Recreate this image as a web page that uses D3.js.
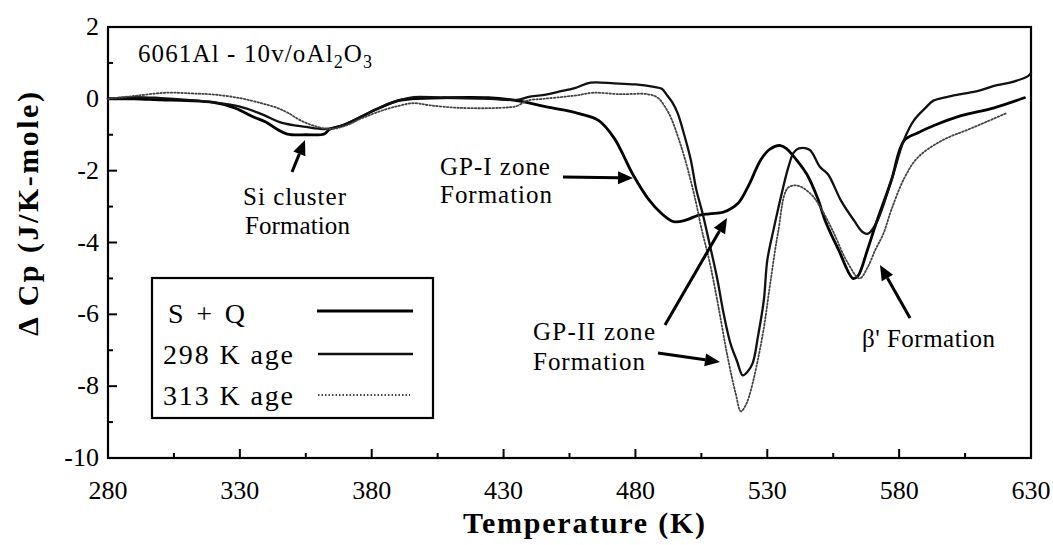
<!DOCTYPE html>
<html><head><meta charset="utf-8">
<script src="https://cdn.jsdelivr.net/npm/d3@7"></script>
<style>
html,body{margin:0;padding:0;background:#fff;}
text{font-family:"Liberation Serif","Times New Roman",serif;fill:#000;}
</style></head>
<body>
<svg id="chart" width="1053" height="545"></svg>
<script>
// ---------- data ----------
const xTicksMajor = [280,330,380,430,480,530,580,630];
const xTicksMinor = [305,355,405,455,505,555,605];
const yTicksMajor = [2,0,-2,-4,-6,-8,-10];
const yTicksMinor = [1,-1,-3,-5,-7,-9];

const seriesNames = ["S + Q","298 K age","313 K age"];

const sqT = [280,290,300,310,320,328,335,340,344,348,355,362,364,370,376,383,390,395,407,424,435,445,452,459,466,472,479,485,490,494.5,499,503.5,508,513.5,519,523,527.5,531,535,537.5,540,545,549,552,557,562.5,564.4,568,571.2,577,581.8,587,593,603.5,616,627.5];
const sqV = [0,0,-0.03,-0.05,-0.1,-0.25,-0.5,-0.65,-0.84,-0.98,-1.0,-0.98,-0.85,-0.72,-0.5,-0.25,-0.05,0,0.03,0.03,-0.05,-0.2,-0.3,-0.42,-0.6,-1.1,-2.1,-2.8,-3.2,-3.42,-3.38,-3.25,-3.2,-3.15,-2.9,-2.4,-1.7,-1.4,-1.3,-1.4,-1.6,-2.1,-2.75,-3.4,-4.2,-5.0,-4.93,-4.2,-3.48,-2.28,-1.17,-0.95,-0.75,-0.47,-0.25,0.03];

const age298T = [280,290,300,310,320,330,338,346,355,362,366,370,376,383,390,396,407,425,435,440,446,451,457,463,472,480,487,490,492,494,496,498.5,501,503,505.5,508,511,513.5,516,518.5,520.7,522.5,524.5,526.5,528.7,530,532.5,534,538,540,542,546,550,553,558,563,566,568,571.2,577,581.8,585.6,590,593,598,603.5,610,616,622,629,630];
const age298V = [0,0.05,0.02,-0.03,-0.1,-0.22,-0.42,-0.67,-0.78,-0.84,-0.8,-0.7,-0.5,-0.25,-0.05,0.05,0.03,0,-0.03,0.06,0.12,0.2,0.3,0.45,0.43,0.4,0.33,0.28,0.1,-0.1,-0.4,-1.0,-1.7,-2.5,-3.2,-4.0,-5.0,-6.0,-6.8,-7.3,-7.7,-7.6,-7.35,-6.6,-5.6,-4.5,-3.6,-3.1,-1.9,-1.5,-1.38,-1.42,-1.9,-2.1,-2.84,-3.4,-3.7,-3.76,-3.48,-2.28,-1.15,-0.6,-0.25,-0.05,0.05,0.13,0.22,0.36,0.45,0.64,0.72];

const age313T = [280,290,302,312,320,330,338,344,348,353,358,364,370,376,383,390,396,402,413,429,435,439,445,452,458,464,474,484.5,488.5,491,493.5,497,500,503,505,508,511,515,518,520,522,524,528.3,531,534,537.8,541.6,546.5,550.3,555,560,565,568,571,574,577,582,587,596,608,621];
const age313V = [0,0.08,0.17,0.15,0.12,0.02,-0.12,-0.25,-0.38,-0.6,-0.75,-0.84,-0.75,-0.55,-0.35,-0.2,-0.12,-0.18,-0.25,-0.25,-0.2,-0.05,0.0,0.05,0.1,0.17,0.13,0.13,0.03,-0.2,-0.53,-1.25,-2.0,-2.9,-3.6,-4.5,-5.6,-7.2,-8.2,-8.7,-8.5,-8.05,-6.55,-5.2,-3.76,-2.48,-2.42,-2.65,-3.04,-3.7,-4.5,-5.0,-4.7,-4.2,-3.76,-3.1,-2.2,-1.64,-1.17,-0.8,-0.39];

// ---------- layout ----------
const svg = d3.select("#chart");
const L = 108, R = 1031, T = 27, B = 458;
const x = d3.scaleLinear().domain([280,630]).range([L,R]);
const y = d3.scaleLinear().domain([-10,2]).range([B,T]);

function fitWidth(sel, target){
  const n = sel.text().length;
  const w = sel.node().getComputedTextLength();
  if(n>1) sel.attr("letter-spacing", ((target-w)/(n-1)).toFixed(2));
}

// frame
svg.append("rect").attr("x",L).attr("y",T).attr("width",R-L).attr("height",B-T)
  .attr("fill","none").attr("stroke","#000").attr("stroke-width",2.2);

// ticks (inward)
const tg = svg.append("g").attr("stroke","#000").attr("stroke-width",2);
xTicksMajor.forEach(t=>tg.append("line").attr("x1",x(t)).attr("x2",x(t)).attr("y1",B).attr("y2",B-9));
xTicksMinor.forEach(t=>tg.append("line").attr("x1",x(t)).attr("x2",x(t)).attr("y1",B).attr("y2",B-5));
yTicksMajor.forEach(t=>tg.append("line").attr("x1",L).attr("x2",L+9).attr("y1",y(t)).attr("y2",y(t)));
yTicksMinor.forEach(t=>tg.append("line").attr("x1",L).attr("x2",L+5).attr("y1",y(t)).attr("y2",y(t)));

// tick labels
svg.append("g").selectAll("text").data(xTicksMajor).join("text")
  .attr("x",d=>x(d)).attr("y",499).attr("text-anchor","middle")
  .attr("font-size",26).text(d=>d);
svg.append("g").selectAll("text").data(yTicksMajor).join("text")
  .attr("x",99).attr("y",d=>y(d)+8).attr("text-anchor","end")
  .attr("font-size",26).text(d=>d);

// axis titles
const xt = svg.append("text").attr("x",463).attr("y",533)
  .attr("font-size",30).attr("font-weight","bold").text("Temperature (K)");
fitWidth(xt, 242);
const yt = svg.append("text").attr("transform","translate(38,336) rotate(-90)")
  .attr("font-size",30).attr("font-weight","bold").text("\u0394 Cp (J/K-mole)");
fitWidth(yt, 244);

// curves
const line = d3.line().x(d=>x(d[0])).y(d=>y(d[1])).curve(d3.curveCatmullRom.alpha(0.5));
const zip = (a,b)=>a.map((t,i)=>[t,b[i]]);
const styles = [
  {data:zip(sqT,sqV), w:2.8, dash:null, color:"#000"},
  {data:zip(age298T,age298V), w:2.3, dash:null, color:"#111"},
  {data:zip(age313T,age313V), w:1.8, dash:"1.5,2", color:"#444"}
];
const cg = svg.append("g");
styles.forEach(s=>{
  cg.append("path").attr("d",line(s.data)).attr("fill","none")
    .attr("stroke",s.color).attr("stroke-width",s.w)
    .attr("stroke-linejoin","round").attr("stroke-linecap","round")
    .attr("stroke-dasharray",s.dash);
});

// sample title
const title = svg.append("text").attr("x",138).attr("y",62).attr("font-size",25);
title.append("tspan").text("6061Al - 10v/oAl");
title.append("tspan").attr("font-size",18).attr("dy",6).text("2");
title.append("tspan").attr("dy",-6).text("O");
title.append("tspan").attr("font-size",18).attr("dy",6).text("3");
{
  const w = title.node().getComputedTextLength();
  title.attr("letter-spacing", ((234-w)/18).toFixed(2));
}

// legend
const lg = svg.append("g");
lg.append("rect").attr("x",152).attr("y",278).attr("width",281).attr("height",140)
  .attr("fill","#fff").attr("stroke","#000").attr("stroke-width",2.2);
const legRows = [
  {lx:168, ly:323, lw:77, sy:311, x1:317, x2:413},
  {lx:163, ly:364, lw:130, sy:354, x1:318, x2:413},
  {lx:163, ly:405, lw:130, sy:395, x1:318, x2:410}
];
legRows.forEach((r,i)=>{
  const t = lg.append("text").attr("x",r.lx).attr("y",r.ly).attr("font-size",28).text(seriesNames[i]);
  fitWidth(t, r.lw);
  lg.append("line").attr("x1",r.x1).attr("x2",r.x2).attr("y1",r.sy).attr("y2",r.sy)
    .attr("stroke",styles[i].color).attr("stroke-width",styles[i].w).attr("stroke-dasharray",styles[i].dash);
});

// annotations
const notes = [
  {t:"Si cluster", x:243, y:205, w:103},
  {t:"Formation", x:245, y:234, w:105},
  {t:"GP-I zone", x:440, y:175, w:110},
  {t:"Formation", x:440, y:203, w:112},
  {t:"GP-II zone", x:533, y:340, w:122},
  {t:"Formation", x:533, y:370, w:112},
  {t:"\u03B2' Formation", x:862, y:347, w:133}
];
notes.forEach(n=>{
  const t = svg.append("text").attr("x",n.x).attr("y",n.y).attr("font-size",25).text(n.t);
  fitWidth(t, n.w);
});

// arrows
const arrows = [
  [292,172,305,140],
  [563,177,633,178],
  [665,325,727,218],
  [658,353,720,362],
  [910,318,880,265]
];
arrows.forEach(([x1,y1,x2,y2])=>{
  const a = Math.atan2(y2-y1,x2-x1), hl=15, hw=6.5;
  const bx = x2-hl*Math.cos(a), by = y2-hl*Math.sin(a);
  svg.append("line").attr("x1",x1).attr("y1",y1).attr("x2",bx).attr("y2",by)
    .attr("stroke","#000").attr("stroke-width",3);
  const p = [[x2,y2],[bx-hw*Math.sin(a),by+hw*Math.cos(a)],[bx+hw*Math.sin(a),by-hw*Math.cos(a)]];
  svg.append("path").attr("d","M"+p.map(q=>q.join(",")).join("L")+"Z").attr("fill","#000");
});
</script>
</body></html>
